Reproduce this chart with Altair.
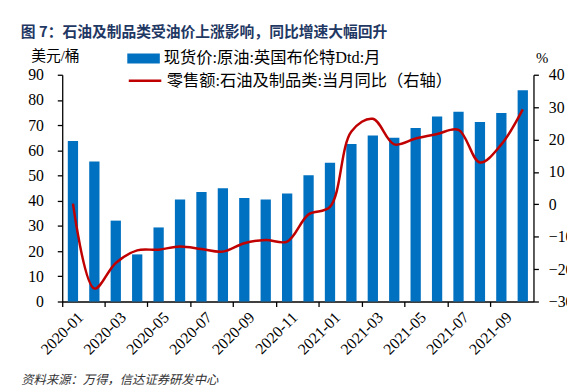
import altair as alt
import pandas as pd

months = ["2020-01", "2020-02", "2020-03", "2020-04", "2020-05", "2020-06",
          "2020-07", "2020-08", "2020-09", "2020-10", "2020-11", "2020-12",
          "2021-01", "2021-02", "2021-03", "2021-04", "2021-05", "2021-06",
          "2021-07", "2021-08", "2021-09", "2021-10"]
brent = [63.7, 55.6, 32.1, 18.7, 29.4, 40.5, 43.5, 45.0, 41.1, 40.5, 42.9, 50.1,
         55.1, 62.5, 65.9, 65.0, 68.9, 73.4, 75.3, 71.2, 74.8, 83.9]
retail_yoy = [0.2, -26.0, -18.1, -14.2, -14.0, -13.0, -13.8, -14.6, -12.0, -11.0, -11.5, -3.1,
              -0.8, 22.5, 26.4, 18.5, 20.3, 21.7, 23.0, 12.9, 18.5, 29.3]
tick_months = months[::2]
bar_name = "现货价:原油:英国布伦特Dtd:月"
line_name = "零售额:石油及制品类:当月同比（右轴）"
left_ticks = [0, 10, 20, 30, 40, 50, 60, 70, 80, 90]
right_ticks = [-30, -20, -10, 0, 10, 20, 30, 40]

df = pd.DataFrame({"month": months, "brent": brent, "yoy": retail_yoy,
                   "bar_s": bar_name, "line_s": line_name})

SERIF = "Liberation Serif"
MIXED = "Liberation Serif, Noto Sans CJK SC"
CJK = "Noto Sans CJK SC"

x = alt.X("month:O", sort=months,
          scale=alt.Scale(paddingInner=0, paddingOuter=0),
          axis=alt.Axis(values=tick_months, bandPosition=0, labelAngle=-45,
                        labelAlign="right", labelBaseline="middle", labelOffset=8,
                        labelPadding=8, tickSize=5, labelFont=SERIF,
                        title="资料来源：万得，信达证券研发中心",
                        titleAnchor="start", titleAlign="left", titleX=-42, titleY=79,
                        titleBaseline="middle", titleFontStyle="italic", titleFont=CJK,
                        titleFontSize=12.5, titleColor="#333333"))

bars = alt.Chart(df).mark_bar(width=alt.RelativeBandSize(0.48)).encode(
    x=x,
    y=alt.Y("brent:Q", scale=alt.Scale(domain=[0, 90], nice=False),
            axis=alt.Axis(values=left_ticks, title="美元/桶", titleAngle=0,
                          labelFont=SERIF, titleAnchor="start",
                          titleX=-32, titleY=-19, titleAlign="left",
                          titleBaseline="middle", labelPadding=14, tickSize=5)),
    color=alt.Color("bar_s:N", scale=alt.Scale(range=["#0070C0"]),
                    legend=alt.Legend(orient="none", legendX=66, legendY=-33, title=None,
                                      symbolType="M-1,-0.303H1V0.303H-1Z", symbolSize=1089,
                                      symbolStrokeWidth=0, labelFontSize=16.5, labelFont=MIXED,
                                      labelColor="black", labelOffset=4, padding=0,
                                      labelLimit=0)),
)

line = alt.Chart(df).mark_line(strokeWidth=2.5, interpolate="catmull-rom").encode(
    x=x,
    y=alt.Y("yoy:Q", scale=alt.Scale(domain=[-30, 40], nice=False),
            axis=alt.Axis(orient="right", values=right_ticks, title="%", titleAngle=0,
                          titleAnchor="start", titleX=2, titleY=-17, titleAlign="left",
                          titleBaseline="middle",
                          labelPadding=10, tickSize=5, labelFont=SERIF,
                          titleFont=SERIF)),
    stroke=alt.Stroke("line_s:N", scale=alt.Scale(range=["#C00000"]),
                      legend=alt.Legend(orient="none", legendX=66, legendY=-12, title=None,
                                        symbolType="stroke", symbolSize=1089,
                                        symbolStrokeWidth=2.5, labelFontSize=16.5, labelFont=MIXED,
                                        labelColor="black", labelOffset=4, padding=0,
                                        labelLimit=0)),
)

chart = alt.layer(bars, line).resolve_scale(
    y="independent", color="independent", stroke="independent"
).properties(
    width=478, height=230,
    padding={"left": 55, "top": 65, "right": 34, "bottom": 84},
    autosize=alt.AutoSizeParams(type="none"),
    title=alt.TitleParams(text="图 7：石油及制品类受油价上涨影响，同比增速大幅回升",
                          anchor="start", frame="group", dx=-42, dy=6, offset=8,
                          fontSize=15, fontWeight="bold", color="#1F3864", font=CJK),
).configure_view(stroke=None).configure_axis(
    labelFontSize=16, labelColor="black",
    domainColor="black", tickColor="black", domainWidth=1.3, tickWidth=1.3,
    grid=False, titleFont=MIXED, titleFontSize=15, titleFontWeight="normal",
    titleColor="black",
)

chart.save("out.html", embed_options={"renderer": "svg", "actions": False})
